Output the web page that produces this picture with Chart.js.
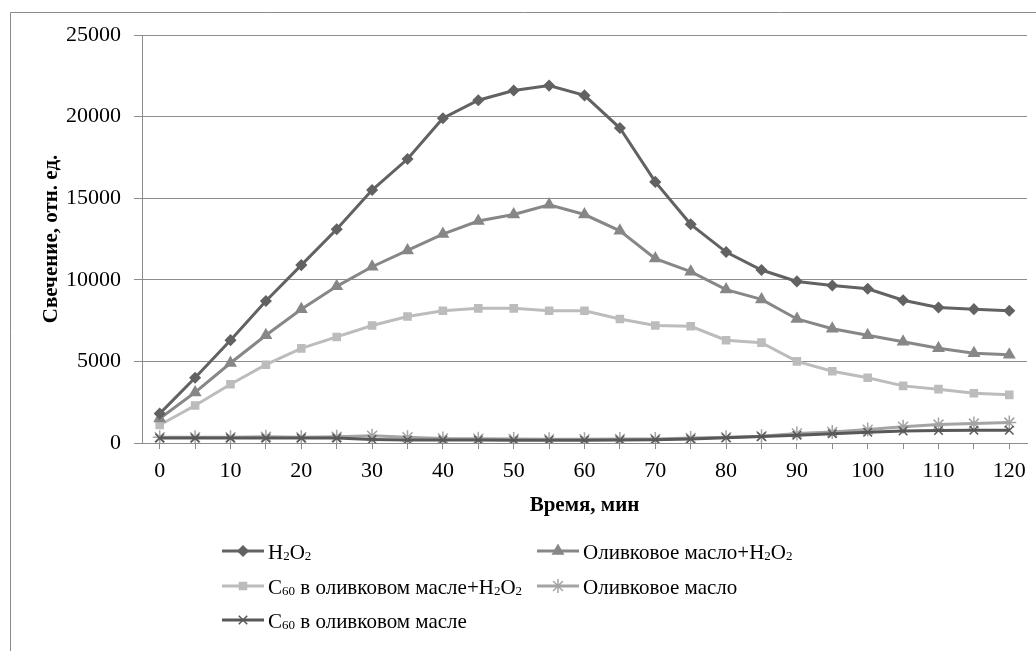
<!DOCTYPE html>
<html lang="ru">
<head>
<meta charset="utf-8">
<title>Свечение</title>
<script src="https://cdn.jsdelivr.net/npm/chart.js@4.4.1/dist/chart.umd.min.js"></script>
<style>
  html, body { margin: 0; padding: 0; background: #ffffff; }
  #wrap { position: relative; width: 1036px; height: 651px; }
</style>
</head>
<body>
<div id="wrap"><canvas id="chart" width="1036" height="651"></canvas></div>
<script>
// Time points, minutes
const minutes = [0, 5, 10, 15, 20, 25, 30, 35, 40, 45, 50, 55, 60,
                 65, 70, 75, 80, 85, 90, 95, 100, 105, 110, 115, 120];

// Luminescence, relative units
const h2o2 = [1800, 4000, 6300, 8700, 10900, 13100, 15500, 17400, 19900, 21000, 21600, 21900, 21300,
              19300, 16000, 13400, 11700, 10600, 9900, 9650, 9450, 8750, 8300, 8200, 8100];
const oliveH2o2 = [1500, 3100, 4900, 6600, 8200, 9600, 10800, 11800, 12800, 13600, 14000, 14600, 14000,
                   13000, 11300, 10500, 9400, 8800, 7600, 7000, 6600, 6200, 5800, 5500, 5400];
const c60OliveH2o2 = [1100, 2300, 3600, 4800, 5800, 6500, 7200, 7750, 8100, 8250, 8250, 8100, 8100,
                      7600, 7200, 7150, 6300, 6150, 5000, 4400, 4000, 3500, 3300, 3050, 2950];
const oliveOil = [350, 350, 350, 380, 350, 380, 450, 350, 280, 260, 240, 230, 230,
                  240, 250, 300, 350, 420, 580, 680, 820, 1000, 1130, 1190, 1250];
const c60Olive = [300, 300, 300, 300, 300, 300, 220, 180, 180, 180, 170, 170, 170,
                  180, 200, 250, 320, 400, 480, 570, 660, 730, 770, 780, 780];

const seriesNames = [
  'H\u2082O\u2082',
  'Оливковое масло+H\u2082O\u2082',
  'C\u2086\u2080 в оливковом масле+H\u2082O\u2082',
  'Оливковое масло',
  'C\u2086\u2080 в оливковом масле'
];

const yTicks = { min: 0, max: 25000, step: 5000 };

const FONT = '"Liberation Serif", "Times New Roman", "DejaVu Serif", serif';
const AXIS_GREY = '#8c8c8c';

function series(label, data, color, pointStyle, radius) {
  return {
    label, data,
    borderColor: color,
    backgroundColor: color,
    borderWidth: 3,
    pointStyle,
    pointRadius: radius,
    pointHoverRadius: radius,
    pointBorderColor: color,
    pointBackgroundColor: color,
    pointBorderWidth: 1.5,
    tension: 0,
    fill: false
  };
}

const datasets = [
  series(seriesNames[0], h2o2, '#626262', 'rectRot', 5),
  series(seriesNames[1], oliveH2o2, '#878787', 'triangle', 6),
  series(seriesNames[2], c60OliveH2o2, '#bcbcbc', 'rect', 5),
  series(seriesNames[3], oliveOil, '#a4a4a4', 'star', 7),
  series(seriesNames[4], c60Olive, '#585858', 'crossRot', 6)
];
// the star-marked series sits behind the dark crossed one
datasets[3].order = 1;
datasets[4].order = 0;

// Outer frame: only the top and left edges are inside the canvas
const framePlugin = {
  id: 'frame',
  beforeDraw(chart) {
    const ctx = chart.ctx;
    ctx.save();
    ctx.strokeStyle = '#8a8a8a';
    ctx.lineWidth = 1;
    ctx.beginPath();
    ctx.moveTo(10.5, chart.height);
    ctx.lineTo(10.5, 12.5);
    ctx.lineTo(chart.width, 12.5);
    ctx.stroke();
    ctx.restore();
  }
};

// Draws a label, setting Unicode subscript digits as small lowered digits
const SUBS = '\u2080\u2081\u2082\u2083\u2084\u2085\u2086\u2087\u2088\u2089';
function drawRichText(ctx, text, x, baseline, size) {
  let cx = x;
  let run = '';
  const flush = () => {
    if (!run) return;
    ctx.font = size + 'px ' + FONT;
    ctx.fillText(run, cx, baseline);
    cx += ctx.measureText(run).width;
    run = '';
  };
  for (const ch of text) {
    const k = SUBS.indexOf(ch);
    if (k >= 0) {
      flush();
      ctx.font = Math.round(size * 0.62) + 'px ' + FONT;
      ctx.fillText(String(k), cx, baseline + 1);
      cx += ctx.measureText(String(k)).width;
    } else {
      run += ch;
    }
  }
  flush();
}

// Two-column legend below the plot
const gridLegend = {
  id: 'gridLegend',
  afterDraw(chart) {
    const ctx = chart.ctx;
    const cols = [222, 537];
    const rows = [551, 586, 620];
    const sampleLen = 42;
    ctx.save();
    ctx.textBaseline = 'alphabetic';
    ctx.textAlign = 'left';
    chart.data.datasets.forEach((ds, i) => {
      const x = cols[i % 2];
      const y = rows[Math.floor(i / 2)];
      ctx.strokeStyle = ds.borderColor;
      ctx.lineWidth = ds.borderWidth;
      ctx.beginPath();
      ctx.moveTo(x, y);
      ctx.lineTo(x + sampleLen, y);
      ctx.stroke();
      ctx.fillStyle = ds.pointBackgroundColor;
      ctx.strokeStyle = ds.pointBorderColor;
      ctx.lineWidth = ds.pointBorderWidth;
      Chart.helpers.drawPoint(ctx, {
        pointStyle: ds.pointStyle,
        radius: ds.pointRadius,
        rotation: 0,
        borderWidth: ds.pointBorderWidth
      }, x + sampleLen / 2, y);
      ctx.fillStyle = '#000000';
      drawRichText(ctx, ds.label, x + sampleLen + 4, y + 8, 21);
    });
    ctx.restore();
  }
};

new Chart(document.getElementById('chart'), {
  type: 'line',
  data: { labels: minutes, datasets },
  plugins: [framePlugin, gridLegend],
  options: {
    responsive: false,
    animation: false,
    events: [],
    layout: { padding: { top: 35, right: 9, bottom: 128, left: 0 } },
    plugins: {
      legend: { display: false },
      tooltip: { enabled: false }
    },
    scales: {
      x: {
        type: 'category',
        offset: true,
        afterFit(scale) { scale.height = 80; },
        grid: {
          offset: false,
          drawOnChartArea: false,
          drawTicks: true,
          tickLength: 6,
          tickColor: AXIS_GREY,
          color: AXIS_GREY
        },
        border: { display: true, color: AXIS_GREY, width: 1 },
        ticks: {
          autoSkip: false,
          maxRotation: 0,
          padding: 9,
          color: '#000000',
          font: { family: FONT, size: 22 },
          callback(value, index) {
            return index % 2 === 0 ? String(minutes[index]) : '';
          }
        },
        title: {
          display: true,
          text: 'Время, мин',
          color: '#000000',
          font: { family: FONT, size: 21, weight: 'bold' },
          padding: { top: 0, bottom: 5 }
        }
      },
      y: {
        min: yTicks.min,
        max: yTicks.max,
        afterFit(scale) { scale.width = 142; },
        grid: {
          color: AXIS_GREY,
          lineWidth: 1,
          drawTicks: true,
          tickLength: 8,
          tickColor: AXIS_GREY
        },
        border: { display: true, color: AXIS_GREY, width: 1 },
        ticks: {
          stepSize: yTicks.step,
          padding: 13,
          color: '#000000',
          font: { family: FONT, size: 22 },
          callback(value) { return String(value); }
        },
        title: {
          display: true,
          text: 'Свечение, отн. ед.',
          color: '#000000',
          font: { family: FONT, size: 21, weight: 'bold' },
          padding: { top: 39, bottom: 0 }
        }
      }
    }
  }
});
</script>
</body>
</html>
